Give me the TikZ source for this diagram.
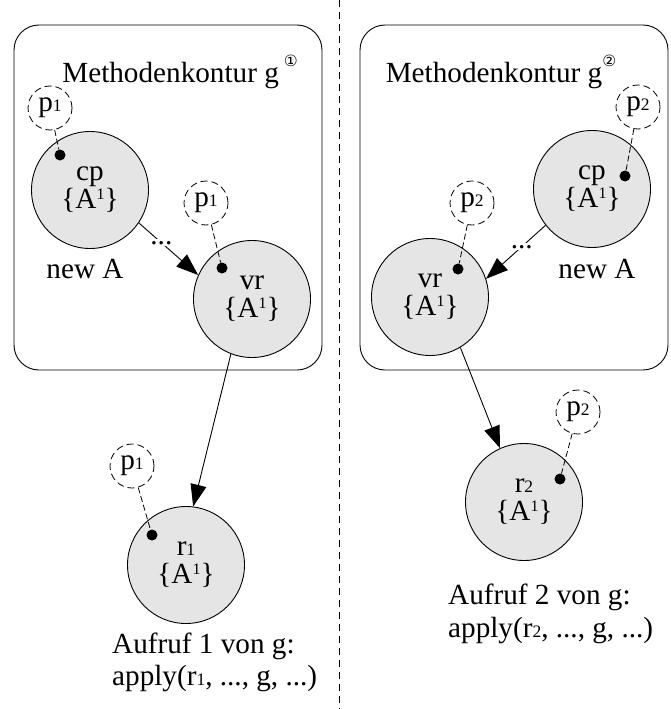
\documentclass[tikz,border=0pt]{standalone}
\usepackage{fontspec}
\setmainfont{Liberation Serif}
\newfontfamily\dejavu{DejaVu Sans}
\usetikzlibrary{arrows.meta}
\definecolor{nodegray}{RGB}{229,229,229}
\newcommand{\mysub}[1]{{\fontsize{17.5}{17}\selectfont #1}}
\newcommand{\myAone}{\{A\raisebox{9pt}{\fontsize{16}{16}\selectfont 1}\}}
\newcommand{\mycirc}[1]{\raisebox{16pt}{\fontsize{15.5}{15}\selectfont\dejavu #1}}
\begin{document}
\begin{tikzpicture}[x=1pt,y=-1pt,
  every node/.style={font=\fontsize{29.2}{28}\selectfont},
  obj/.style={circle, draw, fill=nodegray, minimum size=117pt, inner sep=0pt, align=center, line width=0.9pt},
  ptr/.style={circle, draw, dash pattern=on 7pt off 4pt, minimum size=44pt, inner sep=0pt, line width=0.8pt},
  dotn/.style={circle, fill=black, minimum size=11pt, inner sep=0pt},
  link/.style={dash pattern=on 6pt off 3pt, line width=0.8pt},
  arr/.style={line width=0.9pt, -{Triangle[length=22pt,width=16pt]}},
  lbl/.style={inner sep=0pt},
  dots/.style={fill=white, inner sep=2pt},
  box/.style={draw, rounded corners=25pt, line width=0.9pt}
]
\useasboundingbox (0,0) rectangle (671,709);

% divider
\coordinate (divT) at (339,0);
\coordinate (divB) at (339,709);
\draw[dash pattern=on 7pt off 5pt, line width=0.9pt] (divT) -- (divB);

% ---------- left ----------
\draw[box] (14,25) rectangle (322,370);
\node[lbl, anchor=base] (titL) at (180,82) {Methodenkontur g\,\mycirc{①}};

\node[obj] (cpL) at (90,190) {cp\\\myAone};
\node[ptr] (pL1) at (50,108) {p\mysub{1}};
\node[dotn] (dL1) at (60,155) {};
\draw[link] (pL1) -- (dL1);
\node[lbl, anchor=base] (newL) at (85,278) {new A};

\node[obj] (vrL) at (252,299) {vr\\\myAone};
\node[ptr] (pL2) at (206,203) {p\mysub{1}};
\node[dotn] (dL2) at (222,268) {};
\draw[link] (pL2) -- (dL2);

\draw[arr] (cpL.-34) -- node[pos=0.38, dots] (dotsL) {...} (vrL.156);

\node[obj] (r1) at (186,565) {r\mysub{1}\\\myAone};
\node[ptr] (pL3) at (132,466) {p\mysub{1}};
\node[dotn] (dL3) at (152,535) {};
\draw[link] (pL3) -- (dL3);
\draw[arr] (vrL.-111) -- (r1.83);

\node[lbl, anchor=base west] (aufL) at (112,653) {Aufruf 1 von g:};
\node[lbl, anchor=base west] (appL) at (112,685) {apply(r\mysub{1}, ..., g, ...)};

% ---------- right ----------
\draw[box] (360,25) rectangle (668,370);
\node[lbl, anchor=base] (titR) at (501,82) {Methodenkontur g\mycirc{②}};

\node[obj] (cpR) at (592,189) {cp\\\myAone};
\node[ptr] (pR1) at (638,107) {p\mysub{2}};
\node[dotn] (dR1) at (625,176) {};
\draw[link] (pR1) -- (dR1);
\node[lbl, anchor=base] (newR) at (597,278) {new A};

\node[obj] (vrR) at (430,297) {vr\\\myAone};
\node[ptr] (pR2) at (472,203) {p\mysub{2}};
\node[dotn] (dR2) at (458,269) {};
\draw[link] (pR2) -- (dR2);

\draw[arr] (cpR.218) -- node[pos=0.4, dots] (dotsR) {...} (vrR.18);

\node[obj] (r2) at (524,502) {r\mysub{2}\\\myAone};
\node[ptr] (pR3) at (578,412) {p\mysub{2}};
\node[dotn] (dR3) at (560,479) {};
\draw[link] (pR3) -- (dR3);
\draw[arr] (vrR.-59) -- (r2.114);

\node[lbl, anchor=base west] (aufR) at (448,604) {Aufruf 2 von g:};
\node[lbl, anchor=base west] (appR) at (448,637) {apply(r\mysub{2}, ..., g, ...)};
\end{tikzpicture}
\end{document}
